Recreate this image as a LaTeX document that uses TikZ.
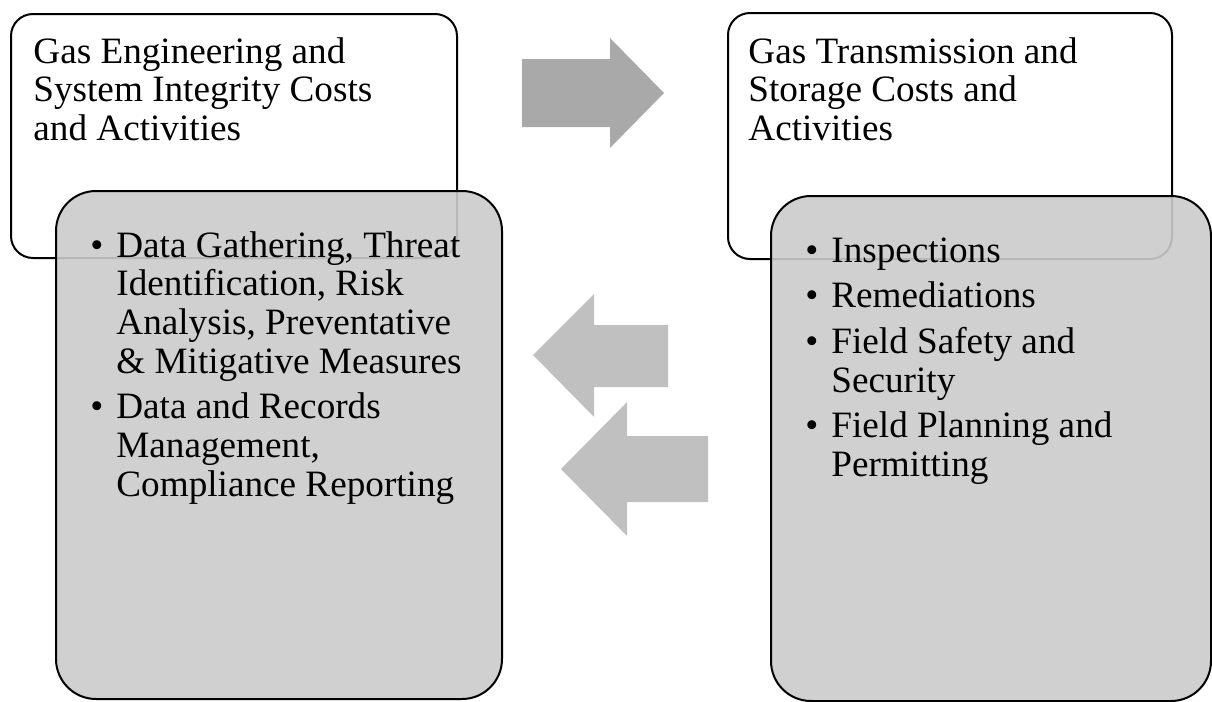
\documentclass[tikz,border=0pt]{standalone}
\usepackage{fontspec}
\setmainfont{Liberation Serif}
\definecolor{boxgray}{RGB}{203,203,203}
\definecolor{darkarrow}{RGB}{169,169,169}
\definecolor{lightarrow}{RGB}{192,192,192}
\newcommand{\itembullet}{\makebox[13pt][l]{\textbullet}}
\begin{document}
\begin{tikzpicture}[x=0.5pt,y=-0.5pt,line join=round,
    titlebox/.style={draw=black,line width=1pt,fill=white,rounded corners=11pt,
      anchor=north west,inner sep=0pt},
    itembox/.style={draw=black,line width=1pt,fill=boxgray,fill opacity=0.9,
      rounded corners=20pt,anchor=north west,inner sep=0pt},
    boxtext/.style={anchor=base west,inner sep=0pt,
      font=\fontsize{18.6pt}{19.35pt}\selectfont},
    blockarrow/.style={fill=#1,draw=none}]
  \useasboundingbox (0,0) rectangle (1212,702);
  % header boxes
  \node[titlebox,minimum width=223pt,minimum height=122pt] (engbox) at (10,13) {};
  \node[titlebox,minimum width=222pt,minimum height=123pt] (tsbox) at (727,12) {};
  % activity boxes, lying over the headers
  \node[itembox,minimum width=223pt,minimum height=254pt] (engitems) at (55,190) {};
  \node[itembox,minimum width=220pt,minimum height=252.5pt] (tsitems) at (770,195) {};
  % block arrows between the columns
  \fill[blockarrow=darkarrow] (522,59) -- (610,59) -- (610,38) -- (664,93)
    -- (610,148) -- (610,127) -- (522,127) -- cycle;
  \fill[blockarrow=lightarrow] (668,325) -- (594,325) -- (594,294) -- (533,355)
    -- (594,417) -- (594,387) -- (668,387) -- cycle;
  \fill[blockarrow=lightarrow] (708,436) -- (627,436) -- (627,402) -- (561,469)
    -- (627,536) -- (627,502) -- (708,502) -- cycle;
  % texts
  \node[boxtext] (engtitle) at (33,63) {\begin{tabular}[t]{@{}l@{}}
    Gas Engineering and\\System Integrity Costs\\and Activities\end{tabular}};
  \node[boxtext] (tstitle) at (748,63) {\begin{tabular}[t]{@{}l@{}}
    Gas Transmission and\\Storage Costs and\\Activities\end{tabular}};
  \node[boxtext] (englist) at (90,257) {\begin{tabular}[t]{@{}l@{}l@{}}
    \itembullet & Data Gathering, Threat\\
     & Identification, Risk\\
     & Analysis, Preventative\\
     & \& Mitigative Measures\\[3.5pt]
    \itembullet & Data and Records\\
     & Management,\\
     & Compliance Reporting\end{tabular}};
  \node[boxtext] (tslist) at (805,262) {\begin{tabular}[t]{@{}l@{}l@{}}
    \itembullet & Inspections\\[3.5pt]
    \itembullet & Remediations\\[3.5pt]
    \itembullet & Field Safety and\\
     & Security\\[3.5pt]
    \itembullet & Field Planning and\\
     & Permitting\end{tabular}};
\end{tikzpicture}
\end{document}
